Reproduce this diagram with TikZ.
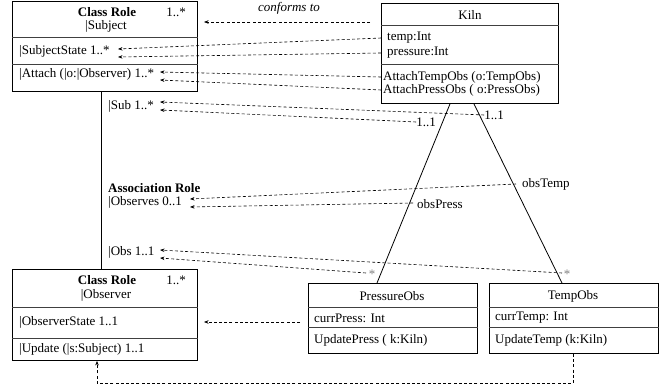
\documentclass[tikz,border=0pt]{standalone}
\usepackage{fontspec}
\setmainfont{Liberation Serif}
\usetikzlibrary{arrows.meta}
\begin{document}
\begin{tikzpicture}[x=1pt,y=-1pt,
  every node/.style={font=\fontsize{13}{15}\selectfont, inner sep=0pt},
  box/.style={draw, line width=0.9pt, anchor=north west},
  divider/.style={line width=0.8pt, black!75},
  lt/.style={anchor=west},
  ct/.style={anchor=center},
  dep/.style={line width=0.6pt, dash pattern=on 3pt off 2.2pt, -{Stealth[length=4.5pt,width=3.5pt]}},
  assoc/.style={line width=0.8pt},
  star/.style={text=black!50}
]
\useasboundingbox (0,0) rectangle (664,385);

% ---------- Subject class role ----------
\node[box, minimum width=185pt, minimum height=90pt] (subj) at (12,1) {};
\draw[divider] (subj.west |- 0,37) -- (subj.east |- 0,37);
\draw[divider] (subj.west |- 0,64) -- (subj.east |- 0,64);
\node[ct, font=\fontsize{13}{15}\selectfont\bfseries] (subjcr) at (107,12) {Class Role};
\node[ct] (subjname) at (106,26) {|Subject};
\node[ct] (subjmult) at (176,12) {1..*};
\node[lt] (subjstate) at (19,51) {|SubjectState 1..*};
\node[lt] (subjattach) at (19,74) {|Attach (|o:|Observer) 1..*};

% ---------- Kiln ----------
\node[box, minimum width=177pt, minimum height=100pt] (kiln) at (381,3) {};
\draw[divider] (kiln.west |- 0,25) -- (kiln.east |- 0,25);
\draw[divider] (kiln.west |- 0,64) -- (kiln.east |- 0,64);
\node[ct] (kilnname) at (470,15) {Kiln};
\node[lt] (ktemp) at (387,38) {temp:Int};
\node[lt] (kpress) at (387,53) {pressure:Int};
\node[lt] (katemp) at (383,77) {AttachTempObs (o:TempObs)};
\node[lt] (kapress) at (383,90) {AttachPressObs ( o:PressObs)};

% ---------- Observer class role ----------
\node[box, minimum width=185pt, minimum height=91pt] (obs) at (12,269) {};
\draw[divider] (obs.west |- 0,307) -- (obs.east |- 0,307);
\draw[divider] (obs.west |- 0,338) -- (obs.east |- 0,338);
\node[ct, font=\fontsize{13}{15}\selectfont\bfseries] (obscr) at (107,280) {Class Role};
\node[ct] (obsname) at (106,295) {|Observer};
\node[ct] (obsmult) at (176,280) {1..*};
\node[lt] (obsstate) at (19,322) {|ObserverState 1..1};
\node[lt] (obsupdate) at (19,349) {|Update (|s:Subject) 1..1};

% ---------- PressureObs ----------
\node[box, minimum width=169pt, minimum height=70pt] (pobs) at (308,283) {};
\draw[divider] (pobs.west |- 0,307) -- (pobs.east |- 0,307);
\draw[divider] (pobs.west |- 0,327) -- (pobs.east |- 0,327);
\node[ct] (pobsname) at (392,296) {PressureObs};
\node[lt] (pcurr) at (314,318) {currPress: Int};
\node[lt] (pupd) at (314,340) {UpdatePress ( k:Kiln)};

% ---------- TempObs ----------
\node[box, minimum width=169pt, minimum height=70pt] (tobs) at (489,283) {};
\draw[divider] (tobs.west |- 0,307) -- (tobs.east |- 0,307);
\draw[divider] (tobs.west |- 0,327) -- (tobs.east |- 0,327);
\node[ct] (tobsname) at (573,296) {TempObs};
\node[lt] (tcurr) at (495,318) {currTemp: Int};
\node[lt] (tupd) at (495,340) {UpdateTemp (k:Kiln)};

% ---------- middle labels ----------
\node[lt] (sub) at (108,106) {|Sub 1..*};
\node[lt, font=\fontsize{13}{15}\selectfont\bfseries] (assocrole) at (108,188) {Association Role};
\node[lt] (observes) at (108,202) {|Observes 0..1};
\node[lt] (obsl) at (108,252) {|Obs 1..1};
\node[ct, font=\fontsize{13}{15}\selectfont\itshape] (conf) at (289,8) {conforms to};
\node[ct] (m1) at (494,115) {1..1};
\node[ct] (m2) at (426,122) {1..1};
\node[lt] (otemp) at (522,184) {obsTemp};
\node[lt] (opress) at (417,204) {obsPress};
\node[ct, star] (st1) at (372,274) {*};
\node[ct, star] (st2) at (567,274) {*};

% ---------- anchor coordinates ----------
\coordinate (cfA) at (370,22);
\coordinate (cfB) at (204,22);
\coordinate (ss1) at (118,49);
\coordinate (ss2) at (118,57);
\coordinate (at1) at (160,72);
\coordinate (at2) at (160,80);
\coordinate (sb1) at (160,102);
\coordinate (sb2) at (160,110);
\coordinate (os1) at (190,199);
\coordinate (os2) at (190,207);
\coordinate (ob1) at (160,250);
\coordinate (ob2) at (160,258);
\coordinate (stA) at (366,273);
\coordinate (stB) at (562,273);
\coordinate (osA) at (300,322);
\coordinate (osB) at (204,322);
\coordinate (u1) at (573,383);
\coordinate (u2) at (97,383);

% ---------- solid associations ----------
\draw[assoc] (subj.south -| 101,0) -- (obs.north -| 101,0);
\draw[assoc] (kiln.south -| 450,0) -- (pobs.north -| 377,0);
\draw[assoc] (kiln.south -| 474,0) -- (tobs.north -| 562,0);

% ---------- dependencies ----------
\draw[dep] (cfA) -- (cfB);
\draw[dep] (kiln.west |- ktemp) -- (ss1);
\draw[dep] (kiln.west |- kpress) -- (ss2);
\draw[dep] (kiln.west |- katemp) -- (at1);
\draw[dep] (kiln.west |- kapress) -- (at2);
\draw[dep] (m1.west) -- (sb1);
\draw[dep] (m2.west) -- (sb2);
\draw[dep] (otemp.west) ++(-6,0) -- (os1);
\draw[dep] (opress.west) ++(-4,-1) -- (os2);
\draw[dep] (stB) -- (ob1);
\draw[dep] (stA) -- (ob2);
\draw[dep] (osA) -- (osB);
\draw[dep] (tobs.south -| u1) -- (u1) -- (u2) -- (obs.south -| u2);
\end{tikzpicture}
\end{document}
